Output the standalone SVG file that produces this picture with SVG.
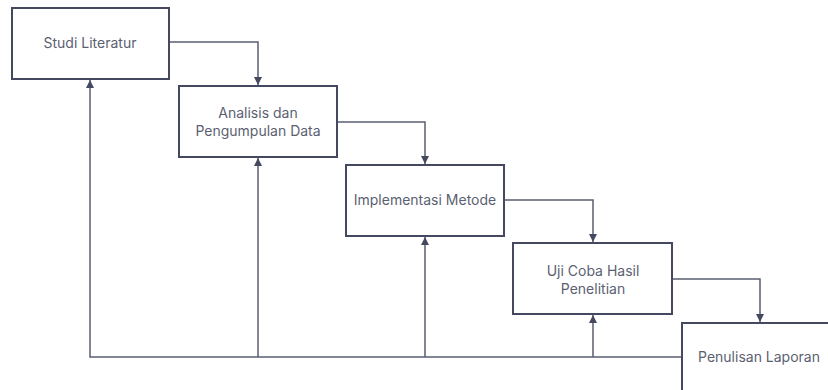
<svg xmlns="http://www.w3.org/2000/svg" width="828" height="390" viewBox="0 0 828 390">
<style>
.box{fill:#fff;stroke:#454960;stroke-width:2}
.lbl{font-family:Inter,"Liberation Sans",sans-serif;font-size:14px;fill:#5c5f72;text-anchor:middle}
.con{fill:none;stroke:#5a5d72;stroke-width:1.5}
</style>
<defs>
<marker id="ah" viewBox="0 0 10 10" refX="10" refY="5" markerWidth="8" markerHeight="8" markerUnits="userSpaceOnUse" orient="auto">
<path d="M0,0 L10,5 L0,10 Z" fill="#454960"/>
</marker>
</defs>
<rect width="828" height="390" fill="#fff"/>
<g id="connectors">
<path class="con" d="M169,42 H258 V85" marker-end="url(#ah)"/>
<path class="con" d="M337,122 H425 V164" marker-end="url(#ah)"/>
<path class="con" d="M504,200 H593 V242" marker-end="url(#ah)"/>
<path class="con" d="M672,279 H760 V322" marker-end="url(#ah)"/>
<path class="con" d="M682,357 H90 V80" marker-end="url(#ah)"/>
<path class="con" d="M258,357 V158" marker-end="url(#ah)"/>
<path class="con" d="M425,357 V237" marker-end="url(#ah)"/>
<path class="con" d="M593,357 V315" marker-end="url(#ah)"/>
</g>
<g id="n1"><rect class="box" x="12" y="8" width="157" height="71"/><text class="lbl" x="90" y="48">Studi Literatur</text></g>
<g id="n2"><rect class="box" x="179" y="86" width="158" height="71"/><text class="lbl" x="258" y="118">Analisis dan</text><text class="lbl" x="258" y="136">Pengumpulan Data</text></g>
<g id="n3"><rect class="box" x="346" y="165" width="158" height="71"/><text class="lbl" x="425" y="205">Implementasi Metode</text></g>
<g id="n4"><rect class="box" x="513" y="243" width="159" height="71"/><text class="lbl" x="593" y="276">Uji Coba Hasil</text><text class="lbl" x="593" y="294">Penelitian</text></g>
<g id="n5"><rect class="box" x="682" y="323" width="170" height="80"/><text class="lbl" x="759" y="362">Penulisan Laporan</text></g>
</svg>
